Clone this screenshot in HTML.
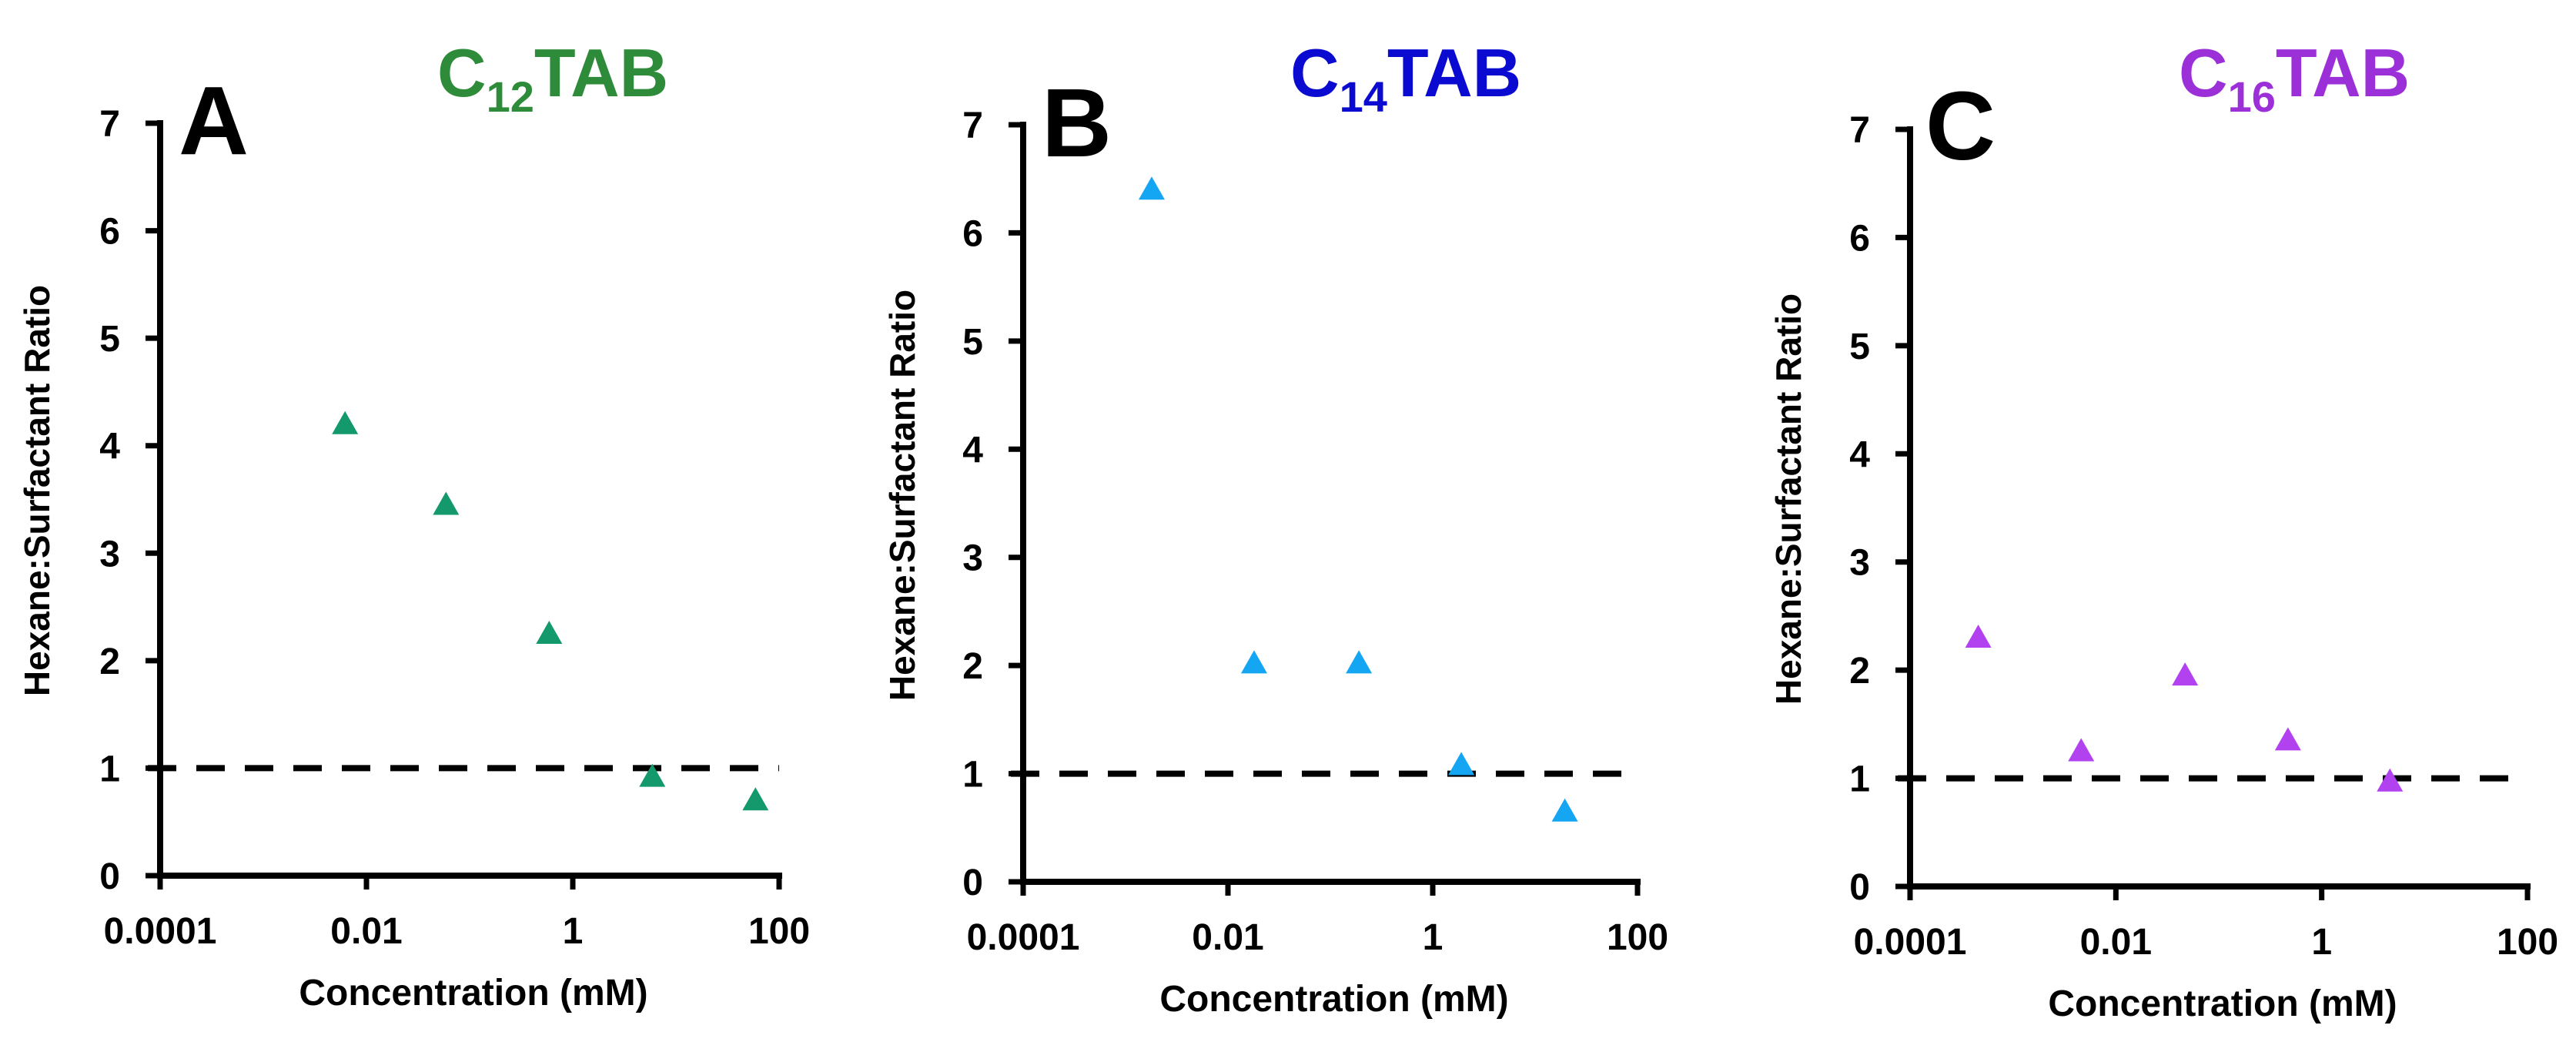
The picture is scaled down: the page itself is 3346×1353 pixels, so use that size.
<!DOCTYPE html>
<html><head><meta charset="utf-8"><style>
html,body{margin:0;padding:0;background:#fff;}
svg{display:block;font-family:"Liberation Sans",sans-serif;font-weight:bold;}
</style></head><body>
<svg id="chart" width="3346" height="1353" viewBox="0 0 3346 1353" xmlns="http://www.w3.org/2000/svg"></svg>
<script>
// data
const xTickValues = [0.0001, 0.01, 1, 100];
const xTickLabels = ["0.0001", "0.01", "1", "100"];
const yTickValues = [0, 1, 2, 3, 4, 5, 6, 7];
const refLineValue = 1;
const concA = [0.0062, 0.059, 0.59, 5.9, 59];
const ratioA = [4.2, 3.45, 2.25, 0.92, 0.7];
const concB = [0.0018, 0.018, 0.19, 1.9, 19.5];
const ratioB = [6.4, 2.02, 2.02, 1.08, 0.65];
const concC = [0.00046, 0.0046, 0.047, 0.47, 4.6];
const ratioC = [2.3, 1.25, 1.95, 1.35, 0.97];

const NS = "http://www.w3.org/2000/svg";
const svg = document.getElementById("chart");
function mk(tag, attrs, parent){
  const e = document.createElementNS(NS, tag);
  for (const k in attrs) e.setAttribute(k, attrs[k]);
  (parent||svg).appendChild(e);
  return e;
}
const panels = [
  {id:"a", letter:"A", sub:"12", title:"#2e8b3a", mark:"#13996b", conc:concA, ratio:ratioA,
   x0:208, x1:1012, y0:1137, y7:160, ytx:48, yty:637, lx:236, ly:200, tx:568, ty:125},
  {id:"b", letter:"B", sub:"14", title:"#0a0ad0", mark:"#14a6f2", conc:concB, ratio:ratioB,
   x0:1329, x1:2127, y0:1145, y7:162, ytx:1172, yty:643, lx:1357, ly:203, tx:1676, ty:125},
  {id:"c", letter:"C", sub:"16", title:"#9b30d9", mark:"#b241f0", conc:concC, ratio:ratioC,
   x0:2481, x1:3283, y0:1151, y7:168, ytx:2323, yty:648, lx:2505, ly:207, tx:2830, ty:125}
];
panels.forEach(p=>{
  const g = mk("g", {});
  
  
  const lmin = Math.log10(xTickValues[0]), lmax = Math.log10(xTickValues[xTickValues.length-1]);
  const xs = v => p.x0 + (Math.log10(v)-lmin)/(lmax-lmin)*(p.x1-p.x0);
  const ys = v => p.y0 - v/7*(p.y0-p.y7);
  // reference line
  const rl = mk("line", {x1:p.x0-16, x2:p.x1, y1:ys(refLineValue), y2:ys(refLineValue), stroke:"#000", "stroke-width":8, "stroke-dasharray":"37 26"}, g);
  
  
  // axes
  const ya = mk("line", {x1:p.x0, x2:p.x0, y1:p.y7-4, y2:p.y0+4, stroke:"#000", "stroke-width":8}, g);
  
  
  const xa = mk("line", {x1:p.x0-4, x2:p.x1+4, y1:p.y0, y2:p.y0, stroke:"#000", "stroke-width":8}, g);
  
  
  yTickValues.forEach(v=>{
    const y = ys(v);
    const t = mk("line", {x1:p.x0-19, x2:p.x0, y1:y, y2:y, stroke:"#000", "stroke-width":7}, g);
    
    
    const l = mk("text", {x:p.x0-52, y:y+17, "text-anchor":"end", "font-size":48}, g);
    l.textContent = String(v);
    
    
  });
  xTickValues.forEach((v,i)=>{
    const x = xs(v);
    const t = mk("line", {x1:x, x2:x, y1:p.y0, y2:p.y0+18, stroke:"#000", "stroke-width":7}, g);
    
    
    const l = mk("text", {x:x, y:p.y0+88, "text-anchor":"middle", "font-size":48}, g);
    l.textContent = xTickLabels[i];
    
    
  });
  const xt = mk("text", {x:(p.x0+p.x1)/2+5, y:p.y0+168, "text-anchor":"middle", "font-size":48}, g);
  xt.textContent = "Concentration (mM)";
  
  
  const yt = mk("text", {x:0, y:0, "text-anchor":"middle", "font-size":46, transform:`translate(${p.ytx+16},${p.yty}) rotate(-90)`}, g);
  yt.textContent = "Hexane:Surfactant Ratio";
  
  
  const lt = mk("text", {x:p.lx-4, y:p.ly, "font-size":126}, g);
  lt.textContent = p.letter;
  
  
  const tt = mk("text", {x:p.tx, y:p.ty, "font-size":88, fill:p.title}, g);
  
  
  const s1 = mk("tspan", {}, tt); s1.textContent = "C";
  const s2 = mk("tspan", {"font-size":56, dy:20}, tt); s2.textContent = p.sub;
  const s3 = mk("tspan", {dy:-20}, tt); s3.textContent = "TAB";
  p.conc.forEach((c,i)=>{
    const x = xs(c), y = ys(p.ratio[i]);
    const m = mk("polygon", {points:`${x},${y-17} ${x-17},${y+13} ${x+17},${y+13}`, fill:p.mark}, g);
    
    
  });
});
</script>
</body></html>
